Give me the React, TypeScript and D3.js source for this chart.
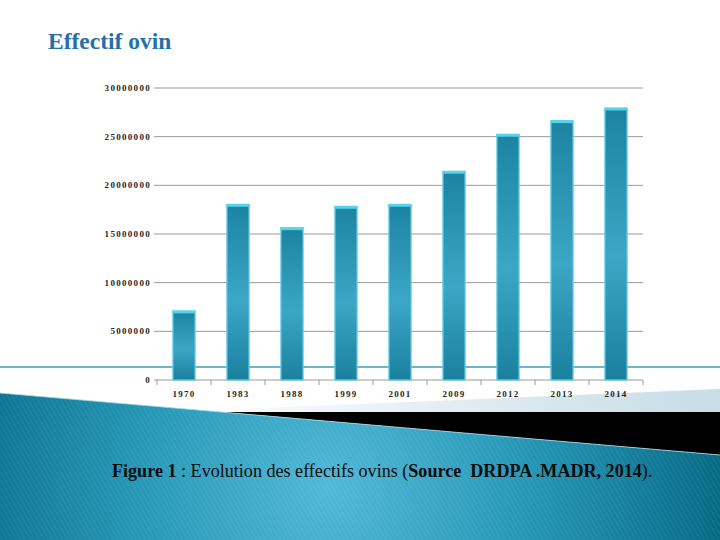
import React, { useEffect, useRef } from 'react';
import * as d3 from 'd3';

// data
const years = ['1970', '1983', '1988', '1999', '2001', '2009', '2012', '2013', '2014'];
const effectifs = [7050000, 18000000, 15600000, 17800000, 18000000, 21400000, 25200000, 26600000, 27900000];
const yTicks = [0, 5000000, 10000000, 15000000, 20000000, 25000000, 30000000];

const titleText = 'Effectif ovin';

function App() {
  const svgRef = useRef<SVGSVGElement>(null);

  useEffect(() => {
    const width = 720;
    const height = 540;
    const plot = { left: 157, right: 643, top: 88, bottom: 380 };

    const svg = d3.select(svgRef.current).attr('width', width).attr('height', height);
    svg.selectAll('*').remove();

    const defs = svg.append('defs');

    // bar gradient (vertical, light in the middle)
    const barGrad = defs
      .append('linearGradient')
      .attr('id', 'barGrad')
      .attr('x1', 0)
      .attr('y1', 0)
      .attr('x2', 0)
      .attr('y2', 1);
    barGrad.append('stop').attr('offset', '0%').attr('stop-color', '#1c84a2');
    barGrad.append('stop').attr('offset', '55%').attr('stop-color', '#3ca6c6');
    barGrad.append('stop').attr('offset', '100%').attr('stop-color', '#1a809e');

    // teal bottom shape
    const tealGrad = defs
      .append('radialGradient')
      .attr('id', 'tealGrad')
      .attr('gradientUnits', 'userSpaceOnUse')
      .attr('cx', 330)
      .attr('cy', 490)
      .attr('r', 400);
    tealGrad.append('stop').attr('offset', '0%').attr('stop-color', '#52b9d7');
    tealGrad.append('stop').attr('offset', '50%').attr('stop-color', '#2596b6');
    tealGrad.append('stop').attr('offset', '100%').attr('stop-color', '#066983');

    const wedgeGrad = defs
      .append('linearGradient')
      .attr('id', 'wedgeGrad')
      .attr('x1', 0)
      .attr('y1', 0)
      .attr('x2', 1)
      .attr('y2', 0);
    wedgeGrad.append('stop').attr('offset', '0%').attr('stop-color', '#ffffff');
    wedgeGrad.append('stop').attr('offset', '100%').attr('stop-color', '#c6dce6');

    const hatch = defs
      .append('pattern')
      .attr('id', 'hatch')
      .attr('patternUnits', 'userSpaceOnUse')
      .attr('width', 4)
      .attr('height', 4)
      .attr('patternTransform', 'rotate(-30)');
    hatch
      .append('line')
      .attr('x1', 0)
      .attr('y1', 0)
      .attr('x2', 0)
      .attr('y2', 4)
      .attr('stroke', '#ffffff')
      .attr('stroke-opacity', 0.12)
      .attr('stroke-width', 1);

    svg.append('rect').attr('width', width).attr('height', height).attr('fill', '#ffffff');

    // slide decoration
    svg
      .append('line')
      .attr('x1', 0)
      .attr('x2', width)
      .attr('y1', 367)
      .attr('y2', 367)
      .attr('stroke', '#3c9cb8')
      .attr('stroke-width', 1.5);

    svg
      .append('polygon')
      .attr('points', '170,412 720,389 720,412')
      .attr('fill', 'url(#wedgeGrad)');
    svg.append('polygon').attr('points', '221,412 720,412 720,455').attr('fill', '#000000');

    const teal = '0,393 720,455 720,540 0,540';
    svg.append('polygon').attr('points', teal).attr('fill', 'url(#tealGrad)');
    svg.append('polygon').attr('points', teal).attr('fill', 'url(#hatch)');
    svg
      .append('line')
      .attr('x1', 0)
      .attr('y1', 393)
      .attr('x2', 720)
      .attr('y2', 455)
      .attr('stroke', '#a8d8e6')
      .attr('stroke-width', 0.8);

    // title
    svg
      .append('text')
      .attr('x', 48)
      .attr('y', 49)
      .attr('fill', '#2470ab')
      .style('font-family', '"Liberation Serif", serif')
      .style('font-weight', 'bold')
      .style('font-size', '23.5px')
      .text(titleText);

    // scales
    const xScale = d3
      .scaleBand()
      .domain(years)
      .range([plot.left, plot.right])
      .paddingInner(0.59)
      .paddingOuter(0.295);

    const yScale = d3.scaleLinear().domain([0, 30000000]).range([plot.bottom, plot.top]);

    // gridlines
    const grid = svg.append('g');
    grid
      .selectAll('line')
      .data(yTicks)
      .enter()
      .append('line')
      .attr('x1', plot.left - 3)
      .attr('x2', plot.right)
      .attr('y1', (d) => yScale(d))
      .attr('y2', (d) => yScale(d))
      .attr('stroke', '#9a9a9a')
      .attr('stroke-width', 1);

    const labelStyle = (sel: any) =>
      sel
        .style('font-family', '"Liberation Serif", serif')
        .style('font-weight', 'bold')
        .style('font-size', '9px')
        .style('letter-spacing', '1.3px')
        .attr('fill', '#262626');

    grid
      .selectAll('text')
      .data(yTicks)
      .enter()
      .append('text')
      .attr('x', 151)
      .attr('y', (d) => yScale(d) + 3)
      .attr('text-anchor', 'end')
      .call(labelStyle)
      .text((d) => String(d));

    // x ticks between categories
    const boundaries = d3.range(years.length + 1).map((i) => plot.left + i * xScale.step());
    svg
      .append('g')
      .selectAll('line')
      .data(boundaries)
      .enter()
      .append('line')
      .attr('x1', (d) => d)
      .attr('x2', (d) => d)
      .attr('y1', plot.bottom)
      .attr('y2', plot.bottom + 5)
      .attr('stroke', '#9a9a9a');

    // bars
    const bars = svg
      .append('g')
      .selectAll('g')
      .data(years.map((y, i) => ({ year: y, value: effectifs[i] })))
      .enter()
      .append('g');

    bars
      .append('rect')
      .attr('x', (d) => xScale(d.year)!)
      .attr('y', (d) => yScale(d.value))
      .attr('width', xScale.bandwidth())
      .attr('height', (d) => plot.bottom - yScale(d.value))
      .attr('fill', 'url(#barGrad)')
      .attr('stroke', '#62cde6')
      .attr('stroke-width', 1.3);

    bars
      .append('rect')
      .attr('x', (d) => xScale(d.year)! - 0.6)
      .attr('y', (d) => yScale(d.value) - 1)
      .attr('width', xScale.bandwidth() + 1.2)
      .attr('height', 3)
      .attr('fill', '#55d3ea');

    // x labels
    svg
      .append('g')
      .selectAll('text')
      .data(years)
      .enter()
      .append('text')
      .attr('x', (d) => xScale(d)! + xScale.bandwidth() / 2)
      .attr('y', 397)
      .attr('text-anchor', 'middle')
      .call(labelStyle)
      .text((d) => d);

    // caption, squeezed horizontally to the slide's width
    const caption = svg
      .append('text')
      .attr('x', 0)
      .attr('y', 0)
      .attr('fill', '#0d0d0d')
      .style('font-family', '"Liberation Serif", serif')
      .style('font-size', '19.5px')
      .style('white-space', 'pre');
    caption.append('tspan').style('font-weight', 'bold').text('Figure 1');
    caption.append('tspan').text(' : Evolution des effectifs ovins (');
    caption.append('tspan').style('font-weight', 'bold').text('Source  DRDPA .MADR, 2014');
    caption.append('tspan').text(').');
    const len = (caption.node() as SVGTextElement).getComputedTextLength() || 541;
    caption.attr('transform', `translate(112,477) scale(${541 / len},1)`);
  }, []);

  return (
    <div>
      <svg ref={svgRef} style={{ position: 'absolute', left: 0, top: 0, display: 'block' }} />
    </div>
  );
}

export default App;
